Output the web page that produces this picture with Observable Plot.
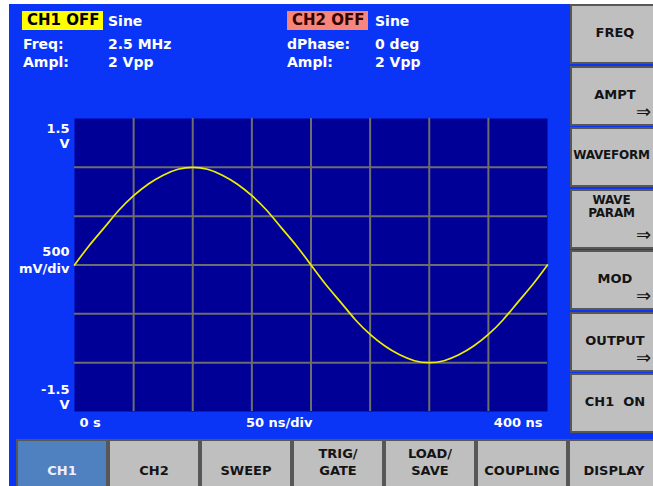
<!DOCTYPE html>
<html>
<head>
<meta charset="utf-8">
<script src="https://cdn.jsdelivr.net/npm/d3@7"></script>
<script src="https://cdn.jsdelivr.net/npm/@observablehq/plot@0.6"></script>
<style>
html, body { margin: 0; padding: 0; background: #fff; overflow: hidden; }
#page { position: relative; width: 653px; height: 486px; overflow: hidden; background: #fff;
  font-family: "DejaVu Sans", sans-serif; font-weight: bold; }
#screen { position: absolute; left: 9px; top: 4px; width: 644px; height: 482px; background: #0a35f6; }
#chart { position: absolute; left: 0; top: 0; }
.t { position: absolute; color: #fff; font-size: 14px; line-height: 14px; white-space: pre; }
.box { position: absolute; height: 19px; width: 81px; font-size: 15px; line-height: 19px; padding-left: 5px;
  box-sizing: border-box; white-space: pre; }
.btn { position: absolute; box-sizing: border-box; background: #bfbfbf; border: 2px solid #575757;
  color: #141414; font-size: 13px; text-align: center; white-space: pre; display: flex; flex-direction: column; }
.arrow { position: absolute; font-size: 18px; line-height: 18px; font-weight: normal; }
</style>
</head>
<body>
<div id="page">
  <div id="screen"></div>
</div>
<script>
// ---- waveform ----
const times = [0, 12.5, 25, 37.5, 50, 62.5, 75, 87.5, 100, 112.5, 125, 137.5, 150, 162.5, 175, 187.5,
  200, 212.5, 225, 237.5, 250, 262.5, 275, 287.5, 300, 312.5, 325, 337.5, 350, 362.5, 375, 387.5, 400];
const volts = [0, 0.2, 0.38, 0.56, 0.71, 0.83, 0.92, 0.98, 1.0, 0.98, 0.92, 0.83, 0.71, 0.56, 0.38, 0.2,
  0, -0.2, -0.38, -0.56, -0.71, -0.83, -0.92, -0.98, -1.0, -0.98, -0.92, -0.83, -0.71, -0.56, -0.38, -0.2, 0];

// ---- grid divisions and labels ----
const xGrid = [50, 100, 150, 200, 250, 300, 350];
const yGrid = [-1, -0.5, 0, 0.5, 1];
const yLabels = ["1.5\nV", "500\nmV/div", "-1.5\nV"];
const yLabelAt = [1.5, 0, -1.5];
const xLabels = ["0 s", "50 ns/div", "400 ns"];
const xLabelAt = [0, 150, 400];

// ---- screen texts ----
const ch1Header = ["CH1 OFF", "Sine"];
const ch1Rows = [["Freq:", "2.5 MHz"], ["Ampl:", "2 Vpp"]];
const ch2Header = ["CH2 OFF", "Sine"];
const ch2Rows = [["dPhase:", "0 deg"], ["Ampl:", "2 Vpp"]];
const sideButtons = ["FREQ", "AMPT", "WAVEFORM", "WAVE\nPARAM", "MOD", "OUTPUT", "CH1  ON"];
const sideArrows = [false, true, false, true, true, true, false];
const bottomButtons = ["CH1", "CH2", "SWEEP", "TRIG/\nGATE", "LOAD/\nSAVE", "COUPLING", "DISPLAY"];
const selectedBottom = 0;

const wave = times.map((t, i) => ({t, v: volts[i]}));
const yl = yLabels.map((label, i) => ({label, v: yLabelAt[i]}));
const xl = xLabels.map((label, i) => ({label, t: xLabelAt[i]}));

const grid = "#6d6d6d";
const chart = Plot.plot({
  width: 653, height: 486,
  marginLeft: 74, marginRight: 106, marginTop: 118, marginBottom: 75,
  x: {domain: [0, 400], axis: null},
  y: {domain: [-1.5, 1.5], axis: null},
  style: {background: "transparent", fontFamily: "DejaVu Sans", fontSize: "13px", fontWeight: "bold", overflow: "visible"},
  marks: [
    Plot.frame({fill: "#000097", stroke: "none"}),
    Plot.ruleX(xGrid, {stroke: grid, strokeWidth: 2}),
    Plot.ruleY(yGrid, {stroke: grid, strokeWidth: 2}),
    Plot.line(wave, {x: "t", y: "v", stroke: "#eeee00", strokeWidth: 1.7, curve: "natural"}),
    Plot.text([yl[0]], {frameAnchor: "left", y: "v", text: "label", textAnchor: "end", lineAnchor: "top", lineHeight: 1.15, dx: -5, dy: 4, fill: "#fff"}),
    Plot.text([yl[1]], {frameAnchor: "left", y: "v", text: "label", textAnchor: "end", lineAnchor: "bottom", lineHeight: 1.3, dx: -5, dy: 8, fill: "#fff"}),
    Plot.text([yl[2]], {frameAnchor: "left", y: "v", text: "label", textAnchor: "end", lineAnchor: "bottom", lineHeight: 1.15, dx: -5, dy: -3, fill: "#fff"}),
    Plot.text([xl[0]], {frameAnchor: "bottom", x: "t", text: "label", textAnchor: "start", lineAnchor: "middle", dx: 5, dy: 11, fill: "#fff"}),
    Plot.text([xl[1]], {frameAnchor: "bottom", x: "t", text: "label", textAnchor: "start", lineAnchor: "middle", dx: -6, dy: 11, fill: "#fff"}),
    Plot.text([xl[2]], {frameAnchor: "bottom", x: "t", text: "label", textAnchor: "end", lineAnchor: "middle", dx: -5, dy: 11, fill: "#fff"})
  ]
});
chart.id = "chart";
const page = document.getElementById("page");
page.appendChild(chart);

function add(cls, text, css) {
  const d = document.createElement("div");
  d.className = cls;
  d.textContent = text;
  Object.assign(d.style, css);
  page.appendChild(d);
  return d;
}

// header: channel 1
add("box", ch1Header[0], {left: "22px", top: "11px", background: "#ffff00", color: "#000"});
add("t", ch1Header[1], {left: "108px", top: "14px"});
ch1Rows.forEach((r, i) => {
  add("t", r[0], {left: "23px", top: (37 + i * 18) + "px"});
  add("t", r[1], {left: "108px", top: (37 + i * 18) + "px"});
});
// header: channel 2
add("box", ch2Header[0], {left: "287px", top: "11px", background: "#f7857a", color: "#300"});
add("t", ch2Header[1], {left: "375px", top: "14px"});
ch2Rows.forEach((r, i) => {
  add("t", r[0], {left: "287px", top: (37 + i * 18) + "px"});
  add("t", r[1], {left: "375px", top: (37 + i * 18) + "px"});
});

// side soft keys
sideButtons.forEach((label, i) => {
  const top = 4 + i * 61.5;
  const two = label.includes("\n");
  const b = add("btn", label, {
    left: "570px", top: top + "px", width: "90px", height: "60px",
    justifyContent: two ? "flex-start" : "center", lineHeight: two ? "13px" : "15px",
    paddingTop: two ? "3px" : "0px", paddingBottom: two ? "0px" : "3px",
    paddingRight: label.length > 7 ? "7px" : "0px",
    fontSize: label.length > 7 ? "12px" : "13px", letterSpacing: label.length > 7 ? "-0.2px" : "0px"
  });
  if (sideArrows[i]) {
    const a = document.createElement("div");
    a.className = "arrow";
    a.textContent = "\u21D2";
    Object.assign(a.style, {left: (636 - 572) + "px", top: "35px"});
    b.appendChild(a);
  }
});

// bottom soft keys
bottomButtons.forEach((label, i) => {
  const sel = i === selectedBottom;
  add("btn", label, {
    left: (16 + i * 92) + "px", top: "439px", width: "92px", height: "60px",
    justifyContent: "flex-end", lineHeight: "17px", paddingBottom: "18px",
    background: sel ? "#4f80c0" : "#bfbfbf", color: sel ? "#eef" : "#141414"
  });
});
</script>
</body>
</html>
